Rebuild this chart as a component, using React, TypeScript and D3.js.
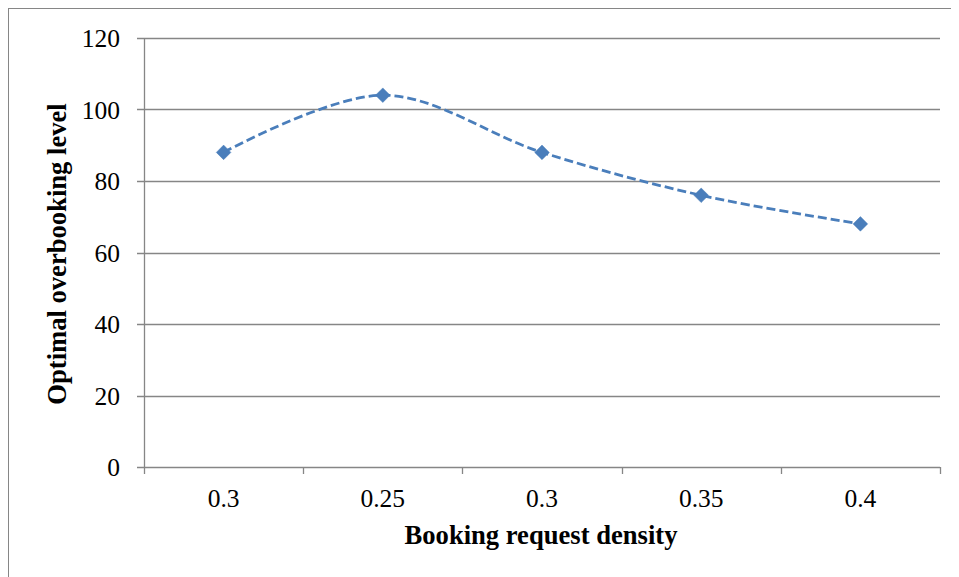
import React from "react";
import * as d3 from "d3";

const categories = ["0.3", "0.25", "0.3", "0.35", "0.4"];
const values = [88, 104, 88, 76, 68];
const yTicks = [0, 20, 40, 60, 80, 100, 120];

export default function App() {
  const W = 951;
  const H = 569;
  // positions relative to svg (page offset 8px)
  const left = 136;
  const right = 932;
  const top = 30;
  const bottom = 459;
  const idx = categories.map((_, i) => i);
  const x = d3.scaleBand<number>().domain(idx).range([left, right]);
  const y = d3.scaleLinear().domain([0, 120]).range([bottom, top]);
  const line = d3
    .line<number>()
    .x((d, i) => (x(i) as number) + x.bandwidth() / 2)
    .y((d) => y(d))
    .curve(d3.curveCardinal.tension(0));
  const grid = "#868686";
  const blue = "#4a7ebb";
  const font = "Liberation Serif, Times New Roman, serif";
  const bounds = [...idx.map((i) => x(i) as number), right];
  return (
    <svg width={W} height={H} style={{ display: "block" }}>
      <rect x={0.5} y={0.5} width={W + 20} height={H + 20} fill="white" stroke={grid} strokeWidth={1} />
      {yTicks.map((t) => (
        <g key={t}>
          <line x1={left - 7} x2={right} y1={Math.round(y(t)) + 0.5} y2={Math.round(y(t)) + 0.5} stroke={grid} strokeWidth={1.3} />
          <text x={112} y={y(t) + 9} textAnchor="end" fontFamily={font} fontSize={25.5} fill="#000">
            {t}
          </text>
        </g>
      ))}
      <line x1={left + 0.5} x2={left + 0.5} y1={top} y2={bottom + 0.5} stroke={grid} strokeWidth={1.3} />
      {bounds.map((b, i) => (
        <line key={i} x1={Math.round(b) + 0.5} x2={Math.round(b) + 0.5} y1={bottom} y2={bottom + 7} stroke={grid} strokeWidth={1.3} />
      ))}
      {categories.map((c, i) => (
        <text key={i} x={(x(i) as number) + x.bandwidth() / 2} y={499} textAnchor="middle" fontFamily={font} fontSize={25.5} fill="#000">
          {c}
        </text>
      ))}
      <path d={line(values) || ""} fill="none" stroke={blue} strokeWidth={2.8} strokeDasharray="9 4" />
      {values.map((v, i) => {
        const cx = (x(i) as number) + x.bandwidth() / 2;
        const cy = y(v);
        const r = 7.3;
        return (
          <path key={i} d={`M${cx},${cy - r}L${cx + r},${cy}L${cx},${cy + r}L${cx - r},${cy}Z`} fill={blue} stroke={blue} strokeWidth={0.5} />
        );
      })}
      <text x={533} y={536} textAnchor="middle" fontFamily={font} fontSize={26.6} fontWeight="bold" fill="#000">
        Booking request density
      </text>
      <text
        transform={`translate(58, ${(top + bottom) / 2 + 1.5}) rotate(-90)`}
        textAnchor="middle"
        fontFamily={font}
        fontSize={26.6}
        fontWeight="bold"
        fill="#000"
      >
        Optimal overbooking level
      </text>
    </svg>
  );
}
